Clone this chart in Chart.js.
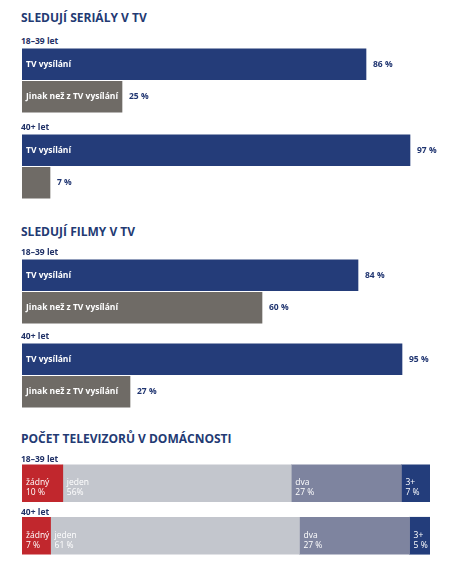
<!DOCTYPE html>
<html>
<head>
<meta charset="utf-8">
<script src="https://cdn.jsdelivr.net/npm/chart.js@4"></script>
<style>
  body { margin: 0; background: #fff; width: 453px; height: 571px; position: relative; overflow: hidden; font-family: "Open Sans", sans-serif; }
  .title { position: absolute; left: 21px; font-weight: 700; font-size: 12px; color: #233a73; line-height: 14px; }
  .age { position: absolute; left: 21px; font-weight: 700; font-size: 8.5px; color: #1f3066; line-height: 10px; z-index: 2; }
  .box { position: absolute; left: 0; width: 453px; }
</style>
</head>
<body>

<div class="title" style="top:11px">SLEDUJÍ SERIÁLY V TV</div>
<div class="age" style="top:36px">18–39 let</div>
<div class="box" style="top:48px;height:65px"><canvas id="c1"></canvas></div>
<div class="age" style="top:122px">40+ let</div>
<div class="box" style="top:134px;height:65px"><canvas id="c2"></canvas></div>

<div class="title" style="top:225px">SLEDUJÍ FILMY V TV</div>
<div class="age" style="top:247px">18–39 let</div>
<div class="box" style="top:259px;height:65px"><canvas id="c3"></canvas></div>
<div class="age" style="top:331px">40+ let</div>
<div class="box" style="top:343px;height:65px"><canvas id="c4"></canvas></div>

<div class="title" style="top:432px">POČET TELEVIZORŮ V DOMÁCNOSTI</div>
<div class="age" style="top:454px">18–39 let</div>
<div class="age" style="top:507px">40+ let</div>
<div class="box" style="top:457px;height:105px"><canvas id="c5"></canvas></div>

<script>
// data
const barLabels = ["TV vysílání", "Jinak než z TV vysílání"];
const serialy1839 = [86, 25];
const serialy40 = [97, 7];
const filmy1839 = [84, 60];
const filmy40 = [95, 27];

const ageGroups = ["18–39 let", "40+ let"];
const tvLabels = ["žádný", "jeden", "dva", "3+"];
const tvCount1839 = [10, 56, 27, 7];
const tvCount40 = [7, 61, 27, 5];
const tvText1839 = ["10 %", "56%", "27 %", "7 %"];
const tvText40 = ["7 %", "61 %", "27 %", "5 %"];

const navy = "#243c79";
const grey = "#6f6b66";
const tvColors = ["#c1272d", "#c3c6cd", "#7e849f", "#233d7b"];
const textNavy = "#1f3470";

const barText = {
  id: "barText",
  afterDatasetsDraw(chart) {
    const ctx = chart.ctx;
    const stacked = chart.options.plugins.barText.stacked;
    ctx.save();
    chart.data.datasets.forEach((ds, di) => {
      const meta = chart.getDatasetMeta(di);
      meta.data.forEach((el, i) => {
        const p = el.getProps(["x", "y", "base"], true);
        if (stacked) {
          const txt = chart.options.plugins.barText.texts[i][di];
          ctx.font = "8.5px 'Open Sans'";
          ctx.fillStyle = "#ffffff";
          ctx.textAlign = "left";
          ctx.textBaseline = "alphabetic";
          ctx.fillText(ds.label, p.base + 4, p.y + 2);
          ctx.fillText(txt, p.base + 4, p.y + 12);
        } else {
          ctx.font = "bold 8.5px 'Open Sans'";
          ctx.textBaseline = "middle";
          ctx.textAlign = "left";
          const name = chart.data.labels[i];
          if (ctx.measureText(name).width + 6 < p.x - p.base) {
            ctx.fillStyle = "#ffffff";
            ctx.fillText(name, p.base + 4, p.y);
          }
          ctx.fillStyle = textNavy;
          ctx.fillText(ds.data[i] + " %", p.x + 7, p.y);
        }
      });
    });
    ctx.restore();
  }
};

function barChart(id, values) {
  new Chart(document.getElementById(id), {
    type: "bar",
    data: {
      labels: barLabels,
      datasets: [{ data: values, backgroundColor: [navy, grey], barThickness: 31 }]
    },
    options: {
      indexAxis: "y",
      responsive: true,
      maintainAspectRatio: false,
      animation: false,
      layout: { padding: { left: 22, right: 31, top: 0, bottom: 0 } },
      scales: {
        x: { display: false, min: 0, max: 100 },
        y: { display: false }
      },
      plugins: { legend: { display: false }, tooltip: { enabled: false }, barText: { stacked: false } }
    },
    plugins: [barText]
  });
}

barChart("c1", serialy1839);
barChart("c2", serialy40);
barChart("c3", filmy1839);
barChart("c4", filmy40);

new Chart(document.getElementById("c5"), {
  type: "bar",
  data: {
    labels: ageGroups,
    datasets: tvLabels.map((l, k) => ({
      label: l,
      data: [tvCount1839[k], tvCount40[k]],
      backgroundColor: tvColors[k],
      barThickness: 37
    }))
  },
  options: {
    indexAxis: "y",
    responsive: true,
    maintainAspectRatio: false,
    animation: false,
    layout: { padding: { left: 22, right: 23, top: 0, bottom: 0 } },
    scales: {
      x: { display: false, stacked: true, min: 0, max: 100 },
      y: { display: false, stacked: true }
    },
    plugins: {
      legend: { display: false },
      tooltip: { enabled: false },
      barText: { stacked: true, texts: [tvText1839, tvText40] }
    }
  },
  plugins: [barText]
});
</script>
</body>
</html>
